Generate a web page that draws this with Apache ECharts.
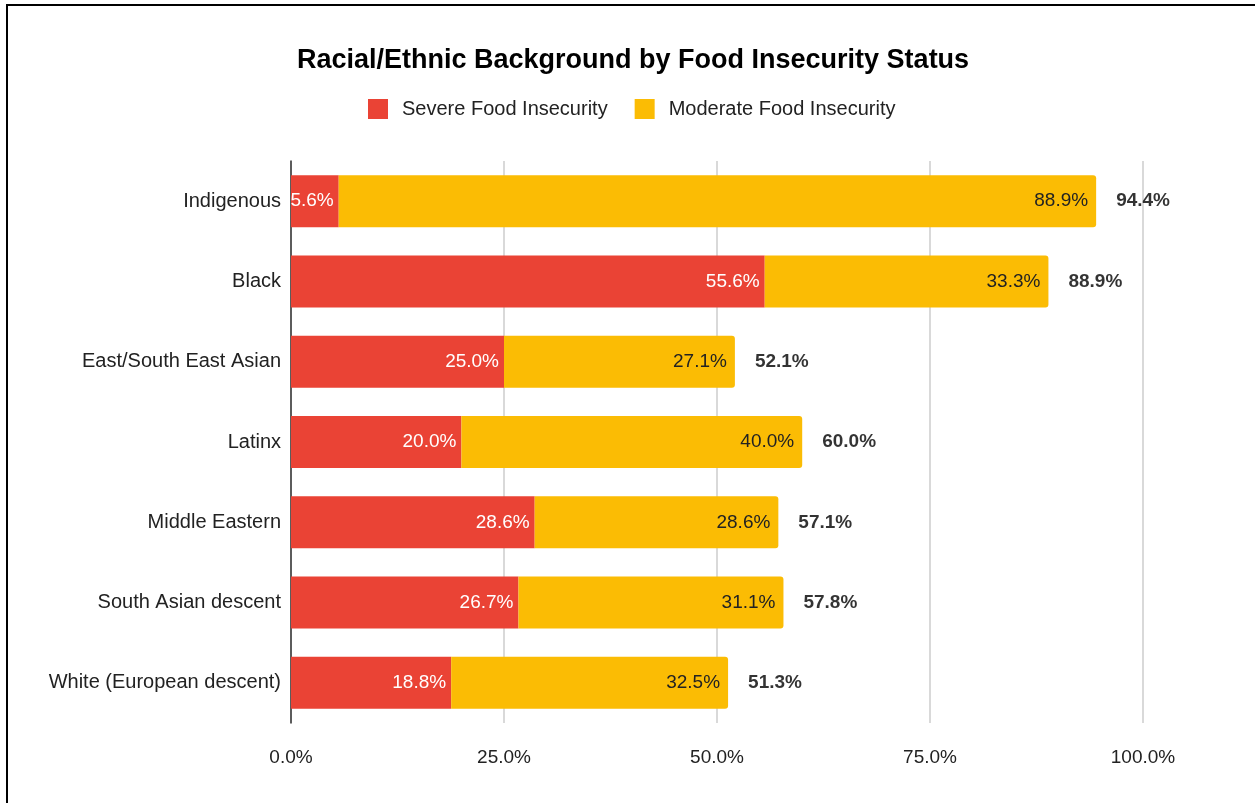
<!DOCTYPE html>
<html>
<head>
<meta charset="utf-8">
<script src="https://cdn.jsdelivr.net/npm/echarts@6/dist/echarts.min.js"></script>
<style>
  html, body { margin: 0; padding: 0; background: #fff; }
  #chart { width: 1255px; height: 803px; }
  .frame {
    position: absolute; left: 6px; top: 4px; right: 0; bottom: 0;
    border-left: 2px solid #000; border-top: 2px solid #000;
    pointer-events: none;
  }
</style>
</head>
<body>
<div id="chart"></div>
<div class="frame"></div>
<script>
const categories = [
  "Indigenous",
  "Black",
  "East/South East Asian",
  "Latinx",
  "Middle Eastern",
  "South Asian descent",
  "White (European descent)",
];
const severe = [5.6, 55.6, 25.0, 20.0, 28.6, 26.7, 18.8];
const moderate = [88.9, 33.3, 27.1, 40.0, 28.6, 31.1, 32.5];
const totals = [94.4, 88.9, 52.1, 60.0, 57.1, 57.8, 51.3];
const xTicks = [0, 25, 50, 75, 100];

const font = "'Liberation Sans', Arial, sans-serif";
const pct = (v) => v.toFixed(1) + "%";

const chart = echarts.init(document.getElementById("chart"));

chart.setOption({
  animation: false,
  textStyle: { fontFamily: font },
  title: {
    text: "Racial/Ethnic Background by Food Insecurity Status",
    left: 292,
    top: 42,
    textStyle: { fontFamily: font, fontSize: 27, fontWeight: "bold", color: "#000" },
  },
  legend: {
    top: 94,
    left: 363,
    icon: "rect",
    itemWidth: 20,
    itemHeight: 20,
    itemGap: 27,
    textStyle: { fontFamily: font, fontSize: 20, color: "#222", padding: [0, 0, 0, 9] },
    data: ["Severe Food Insecurity", "Moderate Food Insecurity"],
  },
  grid: {
    left: 291,
    right: 112,
    top: 161,
    bottom: 80,
    containLabel: false,
    outerBoundsMode: "none",
  },
  xAxis: {
    type: "value",
    min: xTicks[0],
    max: xTicks[xTicks.length - 1],
    interval: 25,
    axisLine: { show: false },
    axisTick: { show: false },
    axisLabel: {
      margin: 25,
      fontFamily: font,
      fontSize: 19,
      color: "#222",
      formatter: (v) => pct(v),
    },
    splitLine: { lineStyle: { color: "#cccccc", width: 1.5 } },
  },
  yAxis: {
    type: "category",
    data: categories,
    inverse: true,
    axisLine: { show: true, lineStyle: { color: "#333", width: 1.5 } },
    axisTick: { show: false },
    axisLabel: { margin: 10, fontFamily: font, fontSize: 20, color: "#222" },
  },
  series: [
    {
      name: "Severe Food Insecurity",
      type: "bar",
      stack: "total",
      barWidth: 52,
      data: severe,
      itemStyle: { color: "#ea4335" },
      label: {
        show: true,
        position: "insideRight",
        distance: 5,
        color: "#fff",
        fontFamily: font,
        fontSize: 19,
        formatter: (p) => pct(p.value),
      },
    },
    {
      name: "Moderate Food Insecurity",
      type: "bar",
      stack: "total",
      barWidth: 52,
      data: moderate,
      itemStyle: { color: "#fbbc04", borderRadius: [0, 3, 3, 0] },
      label: {
        show: true,
        position: "insideRight",
        distance: 8,
        color: "#222",
        fontFamily: font,
        fontSize: 19,
        formatter: (p) => pct(p.value),
      },
    },
    {
      name: "Total",
      type: "scatter",
      symbolSize: 0,
      silent: true,
      data: totals.map((t, i) => [severe[i] + moderate[i], categories[i], t]),
      label: {
        show: true,
        position: "right",
        distance: 20,
        color: "#000",
        fontFamily: font,
        fontSize: 19,
        fontWeight: "bold",
        formatter: (p) => pct(p.value[2]),
      },
    },
  ],
});
</script>
</body>
</html>
